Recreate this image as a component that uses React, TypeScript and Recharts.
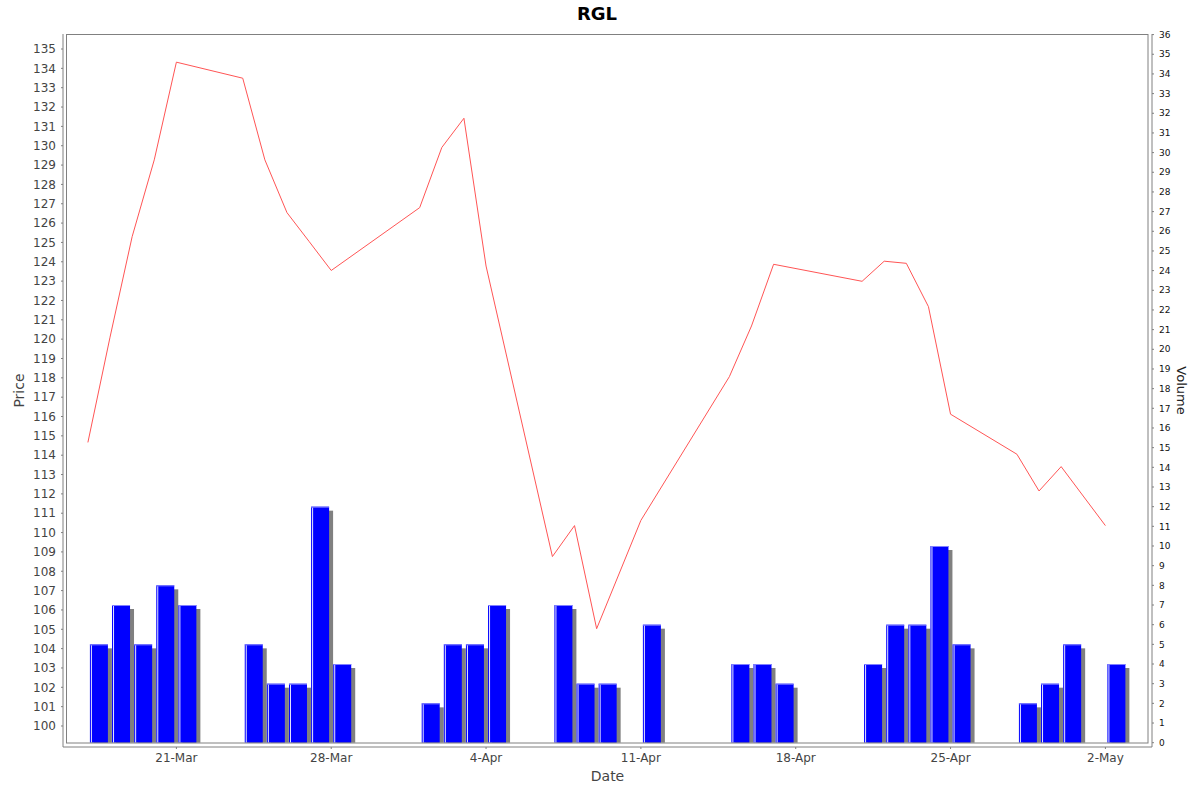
import { ComposedChart, Bar, Line, XAxis, YAxis } from 'recharts';

// trading days shown on the chart
const DATES = [
  '17-Mar', '18-Mar', '19-Mar', '20-Mar', '21-Mar',
  '24-Mar', '25-Mar', '26-Mar', '27-Mar', '28-Mar',
  '1-Apr', '2-Apr', '3-Apr', '4-Apr',
  '7-Apr', '8-Apr', '9-Apr', '11-Apr',
  '15-Apr', '16-Apr', '17-Apr',
  '21-Apr', '22-Apr', '23-Apr', '24-Apr', '25-Apr',
  '28-Apr', '29-Apr', '30-Apr', '2-May',
];

const PRICE = [
  114.66, 120.1, 125.3, 129.27, 134.32,
  133.49, 129.27, 126.54, 125.05, 123.55,
  126.8, 129.91, 131.42, 123.78,
  108.76, 110.36, 105.03, 110.63,
  118.06, 120.68, 123.87,
  122.99, 124.03, 123.92, 121.68, 116.12,
  114.05, 112.15, 113.41, 110.36,
];

const VOLUME = [
  5, 7, 5, 8, 7,
  5, 3, 3, 12, 4,
  2, 5, 5, 7,
  7, 3, 3, 6,
  4, 4, 3,
  4, 6, 6, 10, 5,
  2, 3, 5, 4,
];

const DATE_TICKS = ['21-Mar', '28-Mar', '4-Apr', '11-Apr', '18-Apr', '25-Apr', '2-May'];
const PRICE_TICKS = Array.from({ length: 36 }, (_, i) => 100 + i);
const VOLUME_TICKS = Array.from({ length: 37 }, (_, i) => i);

const MONTH_OFFSET: Record<string, number> = { Mar: 0, Apr: 31, May: 61 };

const toDay = (label: string) => {
  const [d, m] = label.split('-');
  return Number(d) + MONTH_OFFSET[m];
};

const dayLabels: Record<number, string> = {};
DATE_TICKS.forEach((l) => (dayLabels[toDay(l)] = l));

const data = DATES.map((d, i) => ({ t: toDay(d), price: PRICE[i], volume: VOLUME[i] }));

// date axis range; the volume bars use a hidden copy shifted by half a day so
// each bar covers its whole day period (like the original time-period bars)
const X_DOMAIN: [number, number] = [15.874, 65.107];
const BAR_DOMAIN: [number, number] = [X_DOMAIN[0] - 0.5, X_DOMAIN[1] - 0.5];

const FONT = 'DejaVu Sans';
const AXIS_GRAY = '#808080';

const VolumeBar = (props: any) => {
  const { x, y, width, height } = props;
  if (!height || height <= 0) return <g />;
  return (
    <g>
      <rect x={x + 4} y={y + 4} width={width} height={Math.max(height - 4, 0)} fill="#808080" />
      <rect x={x} y={y} width={width} height={height} fill="#0000FF" />
      <rect x={x} y={y} width={width} height={1} fill="#8080FF" />
      <rect x={x + 1} y={y + 1} width={1} height={height - 1} fill="#E6E6FF" />
    </g>
  );
};

export default function App() {
  return (
    <div
      style={{
        position: 'absolute',
        left: 0,
        top: 0,
        width: 1200,
        height: 792,
        background: '#fff',
        fontFamily: FONT,
      }}
    >
      <ComposedChart
        width={1200}
        height={792}
        data={data}
        margin={{ top: 34, right: 0, bottom: 0, left: 0 }}
      >
        <XAxis
          dataKey="t"
          type="number"
          scale="linear"
          domain={X_DOMAIN}
          allowDataOverflow
          ticks={DATE_TICKS.map(toDay)}
          tickFormatter={(v: number) => dayLabels[v] ?? ''}
          height={45}
          stroke={AXIS_GRAY}
          tickSize={2}
          tickMargin={4.5}
          tick={{ fill: '#444', fontSize: 12, fontFamily: FONT }}
          label={{
            content: ({ viewBox }: any) => (
              <text
                x={viewBox.x + viewBox.width / 2}
                y={viewBox.y + 29}
                textAnchor="middle"
                dominantBaseline="central"
                fill="#444"
                fontSize={14}
                fontFamily={FONT}
              >
                Date
              </text>
            ),
          }}
        />
        <XAxis
          xAxisId="bars"
          dataKey="t"
          type="number"
          scale="linear"
          domain={BAR_DOMAIN}
          allowDataOverflow
          hide
          height={0}
        />
        <YAxis
          yAxisId="price"
          orientation="left"
          width={63}
          domain={[98.914, 135.776]}
          allowDataOverflow
          ticks={PRICE_TICKS}
          interval={0}
          stroke={AXIS_GRAY}
          tickSize={2}
          tickMargin={5}
          tick={{ fill: '#444', fontSize: 12, fontFamily: FONT }}
          label={{
            content: ({ viewBox }: any) => {
              const cx = 19;
              const cy = viewBox.y + viewBox.height / 2;
              return (
                <text
                  x={cx}
                  y={cy}
                  transform={`rotate(-90 ${cx} ${cy})`}
                  textAnchor="middle"
                  dominantBaseline="central"
                  fill="#444"
                  fontSize={14}
                  fontFamily={FONT}
                >
                  Price
                </text>
              );
            },
          }}
        />
        <YAxis
          yAxisId="vol"
          orientation="right"
          width={48}
          domain={[-0.219, 36.03]}
          allowDataOverflow
          ticks={VOLUME_TICKS}
          interval={0}
          stroke={AXIS_GRAY}
          tickSize={2}
          tickMargin={5}
          tick={{ fill: '#111', fontSize: 9, fontFamily: FONT }}
          label={{
            content: ({ viewBox }: any) => {
              const cx = 1181;
              const cy = viewBox.y + viewBox.height / 2;
              return (
                <text
                  x={cx}
                  y={cy}
                  transform={`rotate(90 ${cx} ${cy})`}
                  textAnchor="middle"
                  dominantBaseline="central"
                  fill="#222"
                  fontSize={13}
                  fontFamily={FONT}
                >
                  Volume
                </text>
              );
            },
          }}
        />
        <Bar
          xAxisId="bars"
          yAxisId="vol"
          dataKey="volume"
          barSize={18}
          shape={<VolumeBar />}
          isAnimationActive={false}
        />
        <Line
          yAxisId="price"
          dataKey="price"
          type="linear"
          stroke="#FF5555"
          strokeWidth={1}
          dot={false}
          activeDot={false}
          isAnimationActive={false}
        />
      </ComposedChart>
      <svg
        width={1200}
        height={792}
        style={{ position: 'absolute', left: 0, top: 0, pointerEvents: 'none' }}
      >
        <text
          x={597}
          y={19.5}
          textAnchor="middle"
          fontSize={18}
          fontWeight="bold"
          fontFamily={FONT}
          fill="#000"
        >
          RGL
        </text>
        <rect x={66.5} y={34.5} width={1081.5} height={708.5} fill="none" stroke={AXIS_GRAY} />
      </svg>
    </div>
  );
}
